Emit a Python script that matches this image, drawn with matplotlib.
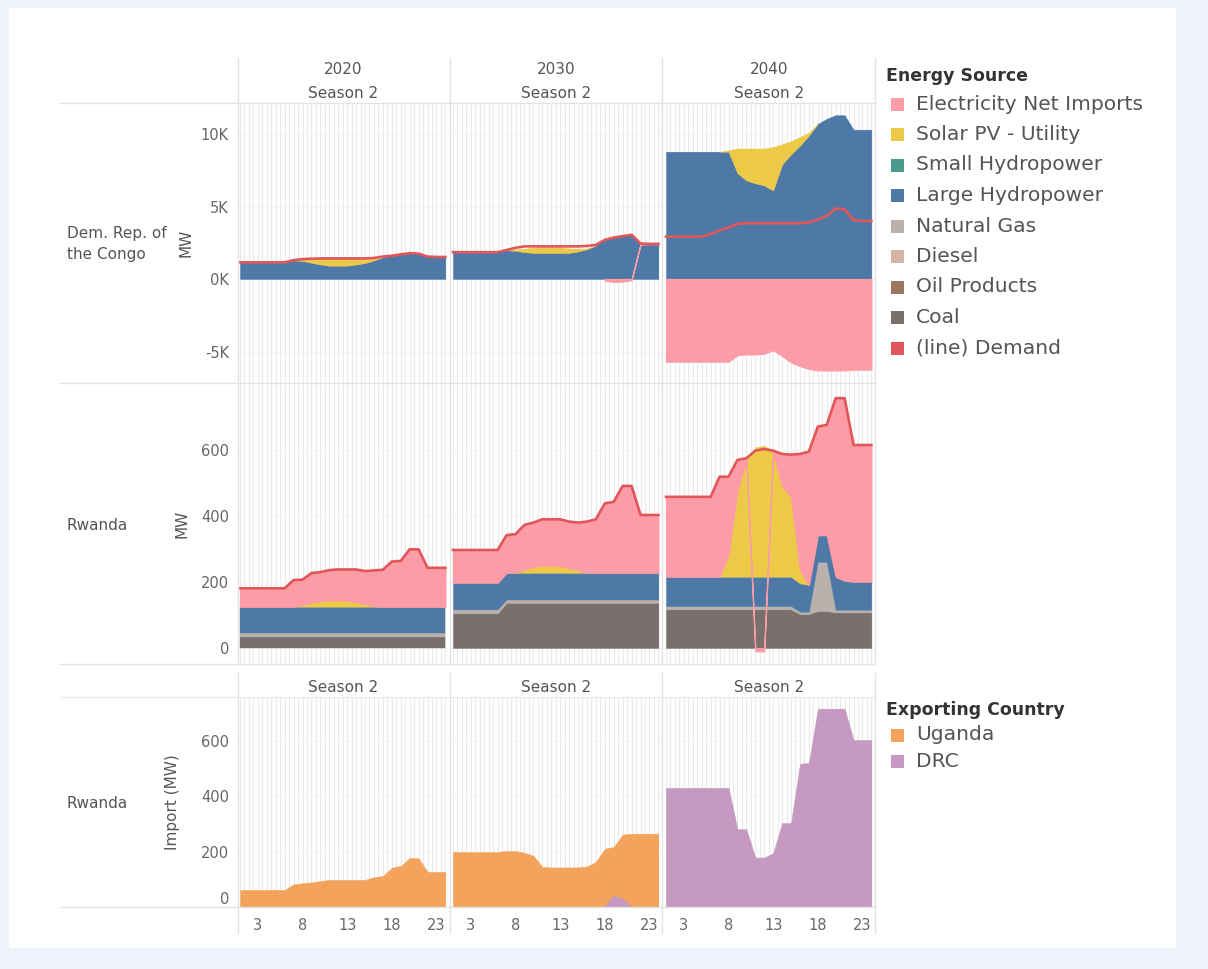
import numpy as np
import matplotlib
matplotlib.use("Agg")
import matplotlib.pyplot as plt
from matplotlib.patches import Rectangle
from matplotlib.lines import Line2D

plt.rcParams['font.family'] = ['DejaVu Sans']

nan = np.nan
hours = np.arange(1, 25)
years = ['2020', '2030', '2040']

# ---------------- Dem. Rep. of the Congo (MW) ----------------
drc_hydro = {
    '2020': [1120]*6 + [1280, 1250, 1120, 1000, 920, 920, 920, 1000, 1100, 1280, 1500, 1580, 1680, 1760, 1730, 1530, 1500, 1500],
    '2030': [1820]*6 + [1980, 1950, 1850, 1800, 1800, 1800, 1800, 1800, 1900, 2050, 2300, 2800, 2950, 3050, 3100, 2380, 2400, 2400],
    '2040': [8780]*8 + [7300, 6800, 6600, 6450, 6100, 7900, 8600, 9200, 9900, 10700, 11050, 11300, 11300, 10300, 10300, 10300],
}
drc_solar = {
    '2020': [nan]*6 + [0, 100, 250, 400, 500, 500, 500, 400, 300, 150, 0] + [nan]*7,
    '2030': [nan]*6 + [0, 100, 250, 350, 400, 400, 380, 300, 200, 50, 0] + [nan]*7,
    '2040': [nan]*6 + [0, 100, 1700, 2200, 2400, 2550, 3000, 1400, 900, 600, 200, 0] + [nan]*6,
}
drc_imports = {
    '2020': [nan]*24,
    '2030': [nan]*17 + [-120, -200, -180, -80, 30, 30, 30],
    '2040': [-5700]*8 + [-5250, -5200, -5200, -5150, -4900, -5300, -5750, -6000, -6200, -6300, -6300, -6300, -6300, -6250, -6250, -6250],
}
drc_demand = {
    '2020': [1150]*6 + [1300, 1370, 1400, 1420, 1420, 1420, 1420, 1420, 1420, 1450, 1550, 1600, 1700, 1780, 1750, 1550, 1520, 1520],
    '2030': [1850]*6 + [2000, 2150, 2250, 2250, 2250, 2250, 2250, 2250, 2250, 2280, 2350, 2700, 2850, 2950, 3050, 2450, 2420, 2420],
    '2040': [2920]*5 + [3100, 3350, 3550, 3800, 3850, 3850, 3850, 3850, 3850, 3850, 3850, 3900, 4100, 4350, 4870, 4800, 4070, 4000, 4000],
}

# ---------------- Rwanda (MW) ----------------
rw_coal = {
    '2020': [34]*24,
    '2030': [105]*6 + [137]*18,
    '2040': [117]*15 + [103, 103, 112, 112] + [108]*5,
}
rw_gas = {
    '2020': [10]*24,
    '2030': [12]*6 + [10]*18,
    '2040': [10]*15 + [7, 7, 149, 149] + [8]*5,
}
rw_hydro = {
    '2020': [81]*24,
    '2030': [81]*24,
    '2040': [89]*15 + [86, 81, 81, 81, 100, 88, 85, 85, 85],
}
rw_solar = {
    '2020': [nan]*6 + [0, 5, 12, 17, 20, 20, 18, 14, 8, 2, 0] + [nan]*7,
    '2030': [nan]*7 + [0, 10, 18, 22, 22, 20, 15, 8, 0] + [nan]*8,
    '2040': [nan]*6 + [0, 66, 263, 354, 392, 397, 380, 274, 242, 40, 0] + [nan]*7,
}
rw_imports = {
    '2020': [56]*6 + [81, 77, 90, 88, 91, 93, 95, 99, 100, 108, 112, 137, 139, 174, 174, 118, 118, 118],
    '2030': [99]*6 + [114, 117, 135, 134, 140, 140, 142, 140, 144, 155, 162, 210, 215, 263, 263, 175, 175, 175],
    '2040': [242]*6 + [303, 237, 91, 5, -10, -10, 2, 98, 128, 352, 404, 329, 334, 541, 551, 414, 414, 414],
}
rw_demand = {
    '2020': [181]*6 + [206, 207, 227, 230, 236, 238, 238, 238, 233, 235, 237, 262, 264, 299, 299, 243, 243, 243],
    '2030': [297]*6 + [342, 345, 373, 380, 390, 390, 390, 383, 380, 383, 390, 438, 443, 491, 491, 403, 403, 403],
    '2040': [458]*6 + [519, 519, 570, 575, 598, 603, 598, 588, 586, 588, 595, 671, 676, 757, 757, 615, 615, 615],
}

# ---------------- Rwanda imports by exporting country (MW) ----------------
imp_uganda = {
    '2020': [62]*6 + [82, 86, 89, 94, 98, 98, 98, 98, 98, 108, 112, 142, 149, 177, 177, 127, 127, 127],
    '2030': [199]*6 + [203, 203, 196, 186, 145, 143, 143, 143, 143, 147, 163, 211, 217, 262, 265, 265, 265, 265],
    '2040': [nan]*24,
}
imp_drc = {
    '2020': [nan]*24,
    '2030': [nan]*17 + [5, 42, 30, 0] + [nan]*3,
    '2040': [431]*8 + [282, 281, 179, 179, 195, 304, 304, 518, 521, 717, 717, 717, 717, 604, 604, 604],
}

energy_sources = ['Electricity Net Imports', 'Solar PV - Utility', 'Small Hydropower', 'Large Hydropower',
                  'Natural Gas', 'Diesel', 'Oil Products', 'Coal', '(line) Demand']
source_colors = ['#FC9CA6', '#EDC948', '#4A9A8E', '#4E79A7', '#BAB0AC', '#D7B5A6', '#9D7660', '#79706E', '#E15759']
color_of = dict(zip(energy_sources, source_colors))
exporters = ['Uganda', 'DRC']
exporter_colors = ['#F3A35B', '#C69AC0']

W, H = 1208, 969
fig = plt.figure(figsize=(W / 100, H / 100), dpi=100)
fig.patch.set_facecolor('#EEF4F9')
fig.add_artist(Rectangle((9 / W, 1 - 948 / H), (1176 - 9) / W, (948 - 8) / H,
                         transform=fig.transFigure, facecolor='white', edgecolor='none', zorder=0))

TXT = '#555555'
TICK = '#666666'
LINE = '#E3E3E3'


def rect(x0, y0, x1, y1):
    return [x0 / W, 1 - y1 / H, (x1 - x0) / W, (y1 - y0) / H]


def fline(xs, ys, color=LINE, lw=1.0):
    fig.add_artist(Line2D([x / W for x in xs], [1 - y / H for y in ys],
                          transform=fig.transFigure, color=color, lw=lw, zorder=1))


def stacked(ax, layers):
    pos = np.zeros(24)
    neg = np.zeros(24)
    for name, vals in layers:
        v = np.array(vals, dtype=float)
        ok = ~np.isnan(v)
        v0 = np.nan_to_num(v)
        lower = np.where(v0 >= 0, pos, neg + v0)
        upper = np.where(v0 >= 0, pos + v0, neg)
        lower[~ok] = np.nan
        upper[~ok] = np.nan
        c = color_of[name]
        lw = 0.9 if name == 'Electricity Net Imports' else 0.3
        ax.fill_between(hours, lower, upper, facecolor=c, edgecolor=c, linewidth=lw, zorder=2)
        pos = pos + np.clip(v0, 0, None)
        neg = neg + np.clip(v0, None, 0)


cols = [(238, 449), (451, 662), (664, 875)]
rows = [(103, 383), (383, 664), (697, 907)]
px_per_hr = 8.93
xlim = (1 - 2 / px_per_hr, 1 + (211 - 2) / px_per_hr)
ylims = [(-7172, 12138), (-48.5, 803), (0, 759)]
yticks = [[-5000, 0, 5000, 10000], [0, 200, 400, 600], [0, 200, 400, 600]]
ytlabels = [['-5K', '0K', '5K', '10K'], ['0', '200', '400', '600'], ['0', '200', '400', '600']]

for r, (y0, y1) in enumerate(rows):
    for c, (x0, x1) in enumerate(cols):
        yr = years[c]
        ax = fig.add_axes(rect(x0, y0, x1, y1))
        ax.set_facecolor('none')
        ax.set_xlim(*xlim)
        ax.set_ylim(*ylims[r])
        for s in ax.spines.values():
            s.set_visible(False)
        ax.set_xticks([3, 8, 13, 18, 23])
        ax.set_xticks(np.arange(1, 24.01, 0.5), minor=True)
        ax.grid(which='both', axis='x', color='#EAEAEA', lw=0.8)
        ax.set_yticks(yticks[r])
        ax.grid(which='major', axis='y', color='#F4F4F4', lw=0.8)
        ax.set_axisbelow(True)
        ax.tick_params(which='both', length=0)
        ax.tick_params(axis='y', pad=6.5, labelsize=10.5, labelcolor=TICK)
        ax.tick_params(axis='x', pad=8, labelsize=10.5, labelcolor=TICK)
        if c == 0:
            ax.set_yticklabels(ytlabels[r])
        else:
            ax.tick_params(axis='y', labelleft=False)
        if r < 2:
            ax.tick_params(axis='x', labelbottom=False)

        if r == 0:
            stacked(ax, [('Large Hydropower', drc_hydro[yr]),
                         ('Solar PV - Utility', drc_solar[yr]),
                         ('Electricity Net Imports', drc_imports[yr])])
            ax.plot(hours, drc_demand[yr], color=color_of['(line) Demand'], lw=1.9,
                    solid_joinstyle='round', zorder=3)
        elif r == 1:
            stacked(ax, [('Coal', rw_coal[yr]),
                         ('Natural Gas', rw_gas[yr]),
                         ('Large Hydropower', rw_hydro[yr]),
                         ('Solar PV - Utility', rw_solar[yr]),
                         ('Electricity Net Imports', rw_imports[yr])])
            ax.plot(hours, rw_demand[yr], color=color_of['(line) Demand'], lw=1.9,
                    solid_joinstyle='round', zorder=3)
        else:
            for name, col, data in zip(exporters, exporter_colors, [imp_uganda, imp_drc]):
                ax.fill_between(hours, 0, np.array(data[yr], dtype=float),
                                facecolor=col, edgecolor=col, linewidth=0.3, zorder=2)
            if c == 0:
                ax.yaxis.get_major_ticks()[0].label1.set_verticalalignment('bottom')

        if c == 0:
            ylab = 'Import (MW)' if r == 2 else 'MW'
            ax.set_ylabel(ylab, fontsize=11, color=TXT)
            lx = {0: 194, 1: 190, 2: 180}[r]
            ax.yaxis.set_label_coords((lx - x0) / (x1 - x0), 0.5)

# separator lines
for y in (103, 383, 664, 907):
    fline((60, 875), (y, y))
fline((60, 875), (697, 697), color='#EBEBEB')
for x in (238, 450, 662, 875):
    fline((x, x), (58, 664))
    fline((x, x), (673, 933))

# headers
for c, (x0, x1) in enumerate(cols):
    cx = (x0 + x1) / 2
    fig.text(cx / W, 1 - 70 / H, years[c], ha='center', va='center', fontsize=11, color=TXT)
    fig.text(cx / W, 1 - 93 / H, 'Season 2', ha='center', va='center', fontsize=11, color=TXT)
    fig.text(cx / W, 1 - 688 / H, 'Season 2', ha='center', va='center', fontsize=11, color=TXT)

fig.text(67 / W, 1 - 244 / H, 'Dem. Rep. of\nthe Congo', ha='left', va='center',
         fontsize=11, color=TXT, linespacing=1.45)
fig.text(67 / W, 1 - 525 / H, 'Rwanda', ha='left', va='center', fontsize=11, color=TXT)
fig.text(67 / W, 1 - 803 / H, 'Rwanda', ha='left', va='center', fontsize=11, color=TXT)

# legends
def legend_block(title, names, colors, y_title, y_first, step):
    fig.text(886 / W, 1 - y_title / H, title, ha='left', va='center', fontsize=12.5,
             fontweight='bold', color='#333333')
    for i, (n, col) in enumerate(zip(names, colors)):
        yc = y_first + i * step
        fig.add_artist(Rectangle((891 / W, 1 - (yc + 6.5) / H), 13 / W, 13 / H,
                                 transform=fig.transFigure, facecolor=col, edgecolor='none'))
        fig.text(916 / W, 1 - yc / H, n, ha='left', va='center', fontsize=14.6, color=TXT)

legend_block('Energy Source', energy_sources, source_colors, 76, 104, 30.5)
legend_block('Exporting Country', exporters, exporter_colors, 710, 735, 26.5)

fig.savefig('out.png', dpi=100, facecolor=fig.get_facecolor())
